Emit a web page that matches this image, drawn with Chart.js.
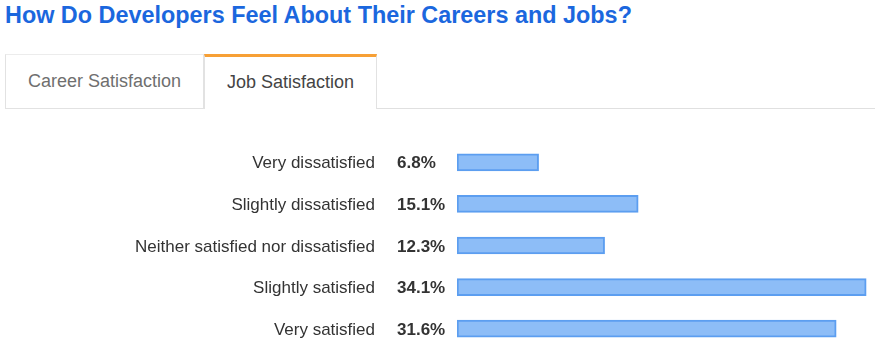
<!DOCTYPE html>
<html>
<head>
<meta charset="utf-8">
<script src="https://cdn.jsdelivr.net/npm/chart.js@4/dist/chart.umd.min.js"></script>
<style>
  html, body { margin: 0; padding: 0; background: #fff; width: 880px; height: 356px; overflow: hidden; font-family: "Liberation Sans", Arial, Helvetica, sans-serif; }
  #title { position: absolute; left: 5px; top: 1px; font-size: 23.4px; font-weight: bold; color: #1b67de; white-space: nowrap; line-height: 28px; }
  .tab { position: absolute; top: 54px; height: 55px; box-sizing: border-box; font-size: 18px; line-height: 52px; text-align: center; background: #fff; white-space: nowrap; }
  #tab1 { left: 5px; width: 199px; border: 1px solid #e2e2e2; border-top-color: #ececec; color: #6f6f6f; }
  #tab2 { left: 204px; width: 173px; border-left: 1px solid #e2e2e2; border-right: 1px solid #e2e2e2; border-top: 3px solid #f7a035; color: #444; line-height: 50px; }
  #rule { position: absolute; left: 377px; top: 108px; width: 498px; height: 1px; background: #e0e0e0; }
  #wrap { position: absolute; left: 0; top: 130px; width: 880px; height: 226px; }
</style>
</head>
<body>
<div id="title">How Do Developers Feel About Their Careers and Jobs?</div>
<div class="tab" id="tab1">Career Satisfaction</div>
<div class="tab" id="tab2">Job Satisfaction</div>
<div id="rule"></div>
<div id="wrap"><canvas id="c"></canvas></div>
<script>
const categories = ["Very dissatisfied", "Slightly dissatisfied", "Neither satisfied nor dissatisfied", "Slightly satisfied", "Very satisfied"];
const jobSatisfaction = [6.8, 15.1, 12.3, 34.1, 31.6];
const valueLabels = ["6.8%", "15.1%", "12.3%", "34.1%", "31.6%"];

const labelPlugin = {
  id: 'rowLabels',
  afterDatasetsDraw(chart) {
    const ctx = chart.ctx;
    const y = chart.scales.y;
    ctx.save();
    ctx.textBaseline = 'middle';
    categories.forEach((c, i) => {
      const py = y.getPixelForValue(i) + 1.5;
      ctx.font = '17px "Liberation Sans", Arial, sans-serif';
      ctx.fillStyle = '#333333';
      ctx.textAlign = 'right';
      ctx.fillText(c, 375, py);
      ctx.font = 'bold 17px "Liberation Sans", Arial, sans-serif';
      ctx.fillStyle = '#333';
      ctx.textAlign = 'left';
      ctx.fillText(valueLabels[i], 397, py);
    });
    ctx.restore();
  }
};

new Chart(document.getElementById('c'), {
  type: 'bar',
  data: {
    labels: categories,
    datasets: [{
      data: jobSatisfaction,
      backgroundColor: '#8dbdf7',
      borderColor: '#5c9ef0',
      borderWidth: 2,
      borderSkipped: false,
      barThickness: 17
    }]
  },
  options: {
    indexAxis: 'y',
    responsive: true,
    maintainAspectRatio: false,
    animation: false,
    layout: { padding: { top: 11.5, bottom: 6.5, left: 457, right: 3 } },
    plugins: { legend: { display: false }, tooltip: { enabled: false } },
    scales: {
      x: { display: false, min: 0, max: 35 },
      y: { display: false }
    }
  },
  plugins: [labelPlugin]
});
</script>
</body>
</html>
